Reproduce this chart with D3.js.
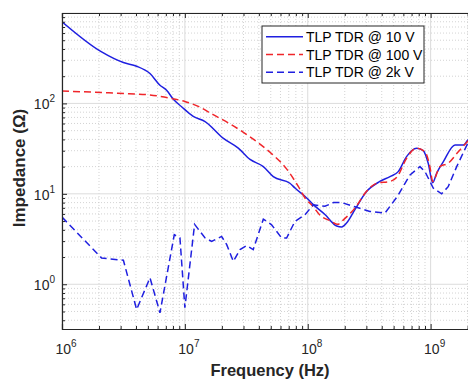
<!DOCTYPE html>
<html>
<head>
<meta charset="utf-8">
<script src="https://cdn.jsdelivr.net/npm/d3@7"></script>
<style>
  body { margin: 0; background: #fff; }
  svg { display: block; font-family: "Liberation Sans", Arial, Helvetica, sans-serif; }
</style>
</head>
<body>
<div id="chart"></div>
<script>
var f10 = [1e6, 2.1e6, 3.16e6, 4.05e6, 5.2e6, 6.27e6, 7.1e6, 8.06e6, 9.4e6, 1.17e7, 1.46e7, 2.06e7, 2.72e7, 3.39e7, 4.35e7, 5.24e7, 7.16e7, 7.87e7, 9.8e7, 1.11e8, 1.38e8, 1.72e8, 1.89e8, 2.07e8, 2.42e8, 3.01e8, 3.86e8, 4.67e8, 5.45e8, 6.37e8, 7.69e8, 8.71e8, 9.56e8, 1.04e9, 1.12e9, 1.27e9, 1.58e9, 1.85e9, 2.0e9, 2.45e9];
var z10 = [800, 371, 283, 258, 214, 159, 140, 111, 92, 72, 63, 41, 32, 24, 20, 15.5, 13.1, 11.6, 9.0, 7.6, 5.9, 4.4, 4.3, 4.75, 6.7, 10.6, 13.7, 15.5, 17.6, 25.8, 31.9, 30, 21.8, 13.3, 16.9, 22.7, 34.7, 34.7, 39, 48];

var f100 = [1e6, 2.1e6, 3.5e6, 5.2e6, 7.9e6, 1.0e7, 1.3e7, 1.7e7, 2.4e7, 3.2e7, 4.9e7, 6.7e7, 8.4e7, 9.5e7, 1.1e8, 1.26e8, 1.56e8, 1.75e8, 1.95e8, 2.42e8, 3.0e8, 3.64e8, 4.67e8, 5.36e8, 6.37e8, 7.69e8, 9.0e8, 9.86e8, 1.04e9, 1.19e9, 1.39e9, 1.68e9, 2.0e9, 2.45e9];
var z100 = [137, 132, 128, 124, 113, 105, 92, 75, 58, 45, 29, 19, 12, 9, 7.3, 5.8, 4.96, 4.6, 5.16, 6.95, 10.6, 13.1, 13.7, 15.5, 24.7, 31.9, 29.2, 20, 13.7, 20, 21.8, 29.2, 38, 50];

var f2k = [1e6, 2.1e6, 3.16e6, 4.05e6, 5.2e6, 6.27e6, 8.2e6, 9.12e6, 1.0e7, 1.2e7, 1.46e7, 1.65e7, 1.99e7, 2.19e7, 2.48e7, 2.81e7, 3.18e7, 3.6e7, 4.35e7, 5.08e7, 6.13e7, 6.73e7, 7.87e7, 9.48e7, 1.11e8, 1.38e8, 1.62e8, 1.89e8, 2.42e8, 3.2e8, 4.25e8, 5.36e8, 6.8e8, 8.19e8, 9.0e8, 1.05e9, 1.23e9, 1.39e9, 1.63e9, 2.0e9, 2.45e9];
var z2k = [5.53, 1.95, 1.84, 0.526, 1.18, 0.484, 3.53, 3.25, 0.55, 4.6, 3.25, 2.98, 3.38, 2.74, 1.79, 2.42, 2.67, 2.42, 5.26, 4.55, 3.25, 3.25, 4.96, 5.86, 7.57, 7.28, 8.0, 8.0, 7.2, 6.38, 6.13, 9.33, 16.2, 20, 17.6, 11.6, 10.0, 12.0, 20, 36, 48];

var seriesNames = ["TLP TDR @ 10 V", "TLP TDR @ 100 V", "TLP TDR @ 2k V"];
var xDecades = [1e6, 1e7, 1e8, 1e9];
var yDecades = [1, 10, 100];

var W = 468, H = 381;
var plotL = 62, plotR = 478, plotT = 13, plotB = 329;

var svg = d3.select("#chart").append("svg")
    .attr("width", W).attr("height", H);

var x = d3.scaleLog().domain([1e6, 2.43e9]).range([plotL, plotR]);
var y = d3.scaleLog().domain([0.32, 1000]).range([plotB, plotT]);

// minor tick values
var xMinor = [];
xDecades.forEach(function(d){ for(var k=2;k<10;k++){ if(d*k <= 2.43e9) xMinor.push(d*k); } });
var yMinor = [];
[0.1, 1, 10, 100].forEach(function(d){ for(var k=2;k<10;k++){ var v=d*k; if(v>=0.32 && v<=1000) yMinor.push(v); } });

var grid = svg.append("g");
grid.selectAll("line.xm").data(xMinor).enter().append("line")
    .attr("x1", function(d){return x(d);}).attr("x2", function(d){return x(d);})
    .attr("y1", plotT).attr("y2", plotB)
    .style("stroke", "#c8c8c8").style("stroke-width", 0.8).style("stroke-dasharray", "1,2");
grid.selectAll("line.ym").data(yMinor).enter().append("line")
    .attr("y1", function(d){return y(d);}).attr("y2", function(d){return y(d);})
    .attr("x1", plotL).attr("x2", plotR)
    .style("stroke", "#c8c8c8").style("stroke-width", 0.8).style("stroke-dasharray", "1,2");
grid.selectAll("line.xM").data(xDecades).enter().append("line")
    .attr("x1", function(d){return x(d);}).attr("x2", function(d){return x(d);})
    .attr("y1", plotT).attr("y2", plotB)
    .style("stroke", "#dcdcdc").style("stroke-width", 1);
grid.selectAll("line.yM").data(yDecades.concat([1000])).enter().append("line")
    .attr("y1", function(d){return y(d);}).attr("y2", function(d){return y(d);})
    .attr("x1", plotL).attr("x2", plotR)
    .style("stroke", "#dcdcdc").style("stroke-width", 1);

// curves
svg.append("clipPath").attr("id", "clip").append("rect")
    .attr("x", plotL).attr("y", plotT).attr("width", plotR-plotL).attr("height", plotB-plotT);

function pairs(fs, zs){ return fs.map(function(f,i){return [f, zs[i]];}); }

var series = [
  {data: pairs(f10, z10), color: "#1f1fe0", dash: null, curve: d3.curveMonotoneX},
  {data: pairs(f100, z100), color: "#f0252a", dash: "7,4", curve: d3.curveMonotoneX},
  {data: pairs(f2k, z2k), color: "#1f1fe0", dash: "7,4", curve: d3.curveLinear}
];

var plot = svg.append("g").attr("clip-path", "url(#clip)");
series.forEach(function(s){
  var line = d3.line().curve(s.curve)
      .x(function(d){return x(d[0]);}).y(function(d){return y(d[1]);});
  plot.append("path").datum(s.data)
    .attr("d", line)
    .style("fill", "none")
    .style("stroke", s.color)
    .style("stroke-width", 1.5)
    .style("stroke-dasharray", s.dash);
});

// axes (ticks point inward)
var axisColor = "#262626";
var xAxisB = d3.axisBottom(x).tickValues(xDecades).tickSize(-5).tickFormat("");
var xAxisT = d3.axisTop(x).tickValues(xDecades).tickSize(-5).tickFormat("");
var yAxisL = d3.axisLeft(y).tickValues(yDecades).tickSize(-5).tickFormat("");

function styleAxis(g){
  g.selectAll("path, line").style("stroke", axisColor);
  g.select(".domain").style("stroke-width", 1.2);
}
svg.append("g").attr("transform", "translate(0," + plotB + ")").call(xAxisB).call(styleAxis);
svg.append("g").attr("transform", "translate(0," + plotT + ")").call(xAxisT).call(styleAxis);
svg.append("g").attr("transform", "translate(" + plotL + ",0)").call(yAxisL).call(styleAxis);

svg.append("g").attr("transform", "translate(0," + plotB + ")")
    .call(d3.axisBottom(x).tickValues(xMinor).tickSize(-3).tickFormat(""))
    .call(function(g){ g.select(".domain").remove(); g.selectAll("line").style("stroke", axisColor); });
svg.append("g").attr("transform", "translate(0," + plotT + ")")
    .call(d3.axisTop(x).tickValues(xMinor).tickSize(-3).tickFormat(""))
    .call(function(g){ g.select(".domain").remove(); g.selectAll("line").style("stroke", axisColor); });
svg.append("g").attr("transform", "translate(" + plotL + ",0)")
    .call(d3.axisLeft(y).tickValues(yMinor).tickSize(-3).tickFormat(""))
    .call(function(g){ g.select(".domain").remove(); g.selectAll("line").style("stroke", axisColor); });

// tick labels with superscripts
var xl = svg.selectAll("text.xt").data(xDecades).enter().append("text")
    .attr("x", function(d){return x(d) + 4;})
    .attr("y", 354)
    .attr("text-anchor", "middle")
    .style("font-size", "14px").style("fill", axisColor);
xl.append("tspan").text("10");
xl.append("tspan").attr("dy", -7).style("font-size", "10px")
    .text(function(d){return Math.round(Math.log10(d));});

var yl = svg.selectAll("text.yt").data(yDecades).enter().append("text")
    .attr("x", 55)
    .attr("y", function(d){return y(d) + 6;})
    .attr("text-anchor", "end")
    .style("font-size", "14px").style("fill", axisColor);
yl.append("tspan").text("10");
yl.append("tspan").attr("dy", -7).style("font-size", "10px")
    .text(function(d){return Math.round(Math.log10(d));});

// axis titles
svg.append("text")
    .attr("x", 270).attr("y", 376)
    .attr("text-anchor", "middle")
    .style("font-size", "16.5px").style("font-weight", "bold").style("fill", axisColor)
    .text("Frequency (Hz)");

svg.append("text")
    .attr("transform", "translate(25,168) rotate(-90)")
    .attr("text-anchor", "middle")
    .style("font-size", "17px").style("font-weight", "bold").style("fill", axisColor)
    .text("Impedance  (Ω)");

// legend
var legend = svg.append("g");
legend.append("rect")
    .attr("x", 262).attr("y", 26).attr("width", 162).attr("height", 57)
    .style("fill", "#fff").style("stroke", axisColor).style("stroke-width", 1);

var rows = legend.selectAll("g.row").data(series).enter().append("g")
    .attr("transform", function(d,i){ return "translate(0," + (36.7 + i*17.8) + ")"; });
rows.append("line")
    .attr("x1", 266).attr("x2", 303).attr("y1", 0).attr("y2", 0)
    .style("stroke", function(d){return d.color;})
    .style("stroke-width", 1.5)
    .style("stroke-dasharray", function(d){return d.dash;});
rows.append("text")
    .attr("x", 306).attr("y", 5)
    .style("font-size", "14px").style("fill", "#000")
    .text(function(d,i){return seriesNames[i];});
</script>
</body>
</html>
